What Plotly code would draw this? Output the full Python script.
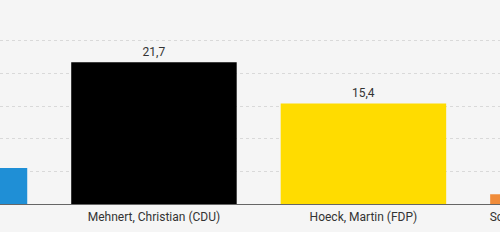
import plotly.graph_objects as go

categories = ["Müller, Jan (AfD)", "Mehnert, Christian (CDU)", "Hoeck, Martin (FDP)", "Schäfer, Thomas (Freie Wähler)"]
values = [5.5, 21.7, 15.4, 1.5]
colors = ["#1f8fd6", "#000000", "#ffdc00", "#f08c3a"]
value_labels = ["5,5", "21,7", "15,4", "1,5"]
grid_values = [5, 10, 15, 20, 25]
label_level = -2.2  # category labels sit just below the baseline

xs = list(range(len(categories)))
font = dict(family="Roboto, sans-serif", size=12, color="#333333")

fig = go.Figure()
fig.add_trace(go.Bar(
    x=xs, y=values,
    marker=dict(color=colors, line=dict(width=0)),
    text=value_labels, textposition="outside",
    textangle=0, constraintext="none",
    textfont=font, hoverinfo="skip",
))
fig.add_trace(go.Scatter(
    x=xs, y=[label_level] * len(xs), mode="text", text=categories,
    textposition="middle center",
    textfont=font, hoverinfo="skip",
))

fig.update_layout(
    width=500, height=243,
    margin=dict(l=0, r=0, t=0, b=0),
    paper_bgcolor="#f5f5f5", plot_bgcolor="#f5f5f5",
    bargap=0.21, showlegend=False,
    font=font,
    xaxis=dict(
        range=[0.265, 2.652], showticklabels=False,
        showgrid=False, zeroline=False, showline=False, ticks="",
    ),
    yaxis=dict(
        range=[-5.97, 31.24], tickmode="array", tickvals=grid_values,
        showticklabels=False,
        gridcolor="#d9d9d9", griddash="dot", gridwidth=1,
        zeroline=True, zerolinecolor="#666666", zerolinewidth=1,
    ),
    shapes=[dict(type="rect", xref="paper", yref="paper", x0=0, x1=1,
                 y0=0, y1=0.045, fillcolor="#ffffff", line=dict(width=0),
                 layer="below")],
)

fig.write_html("out.html")
